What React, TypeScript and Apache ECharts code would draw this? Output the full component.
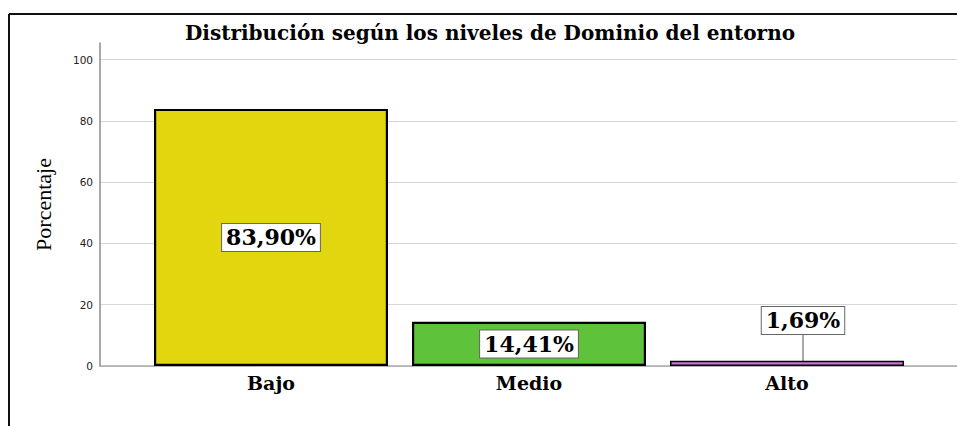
import React, { useEffect, useRef } from "react";
import * as echarts from "echarts";

const titleText = "Distribución según los niveles de Dominio del entorno";
const categories = ["Bajo", "Medio", "Alto"];
const percentages = [83.9, 14.41, 1.69];
const barColors = ["#E2D60F", "#5EC23A", "#CC72DA"];
const yAxisName = "Porcentaje";

export default function App() {
  const ref = useRef<HTMLDivElement>(null);
  useEffect(() => {
    if (!ref.current) return;
    const chart = echarts.init(ref.current, null, { renderer: "svg" });
    const yMax = 105.4;
    chart.setOption({
      animation: false,
      backgroundColor: "#ffffff",
      graphic: [
        { type: "line", shape: { x1: 9, y1: 14, x2: 957, y2: 14 }, style: { stroke: "#111", lineWidth: 2 } },
        { type: "line", shape: { x1: 9, y1: 14, x2: 9, y2: 426 }, style: { stroke: "#111", lineWidth: 2 } },
        {
          type: "text",
          x: 490,
          y: 33,
          style: {
            text: titleText,
            fontFamily: "DejaVu Serif",
            fontWeight: "bold",
            fontSize: 20,
            fill: "#000",
            textAlign: "center",
            textVerticalAlign: "middle",
          },
        },
      ],
      grid: [
        { left: 100, right: 0, top: 43, bottom: 60 },
        { left: 142, right: 41, top: 43, bottom: 60 },
      ],
      xAxis: [
        {
          gridIndex: 0,
          type: "category",
          data: [""],
          axisLine: { show: true, lineStyle: { color: "#a8a8a8", width: 1.5 } },
          axisTick: { show: false },
          axisLabel: { show: false },
          splitLine: { show: false },
        },
        {
          gridIndex: 1,
          type: "category",
          data: categories,
          axisLine: { show: false },
          axisTick: { show: false },
          axisLabel: {
            fontFamily: "DejaVu Serif",
            fontWeight: "bold",
            fontSize: 19,
            color: "#000",
            margin: 7,
          },
        },
      ],
      yAxis: [
        {
          gridIndex: 0,
          type: "value",
          min: 0,
          max: yMax,
          interval: 20,
          name: yAxisName,
          nameLocation: "middle",
          nameGap: 46,
          nameTextStyle: { fontFamily: "Liberation Serif", fontSize: 22, color: "#000" },
          axisLine: { show: true, lineStyle: { color: "#8c8c8c", width: 1.5 } },
          axisTick: { show: false },
          axisLabel: {
            showMaxLabel: false,
            fontFamily: "DejaVu Sans",
            fontSize: 10.5,
            color: "#222",
            margin: 7,
          },
          splitLine: { show: true, showMaxLine: false, lineStyle: { color: "#d6d6d6", width: 1 } },
        },
        { gridIndex: 1, type: "value", min: 0, max: yMax, show: false },
      ],
      series: [
        {
          type: "bar",
          xAxisIndex: 1,
          yAxisIndex: 1,
          barWidth: "90.7%",
          data: percentages.map((v, i) => ({
            value: v,
            itemStyle: { color: barColors[i], borderColor: "#000", borderWidth: i === 2 ? 1.5 : 2.2 },
            labelLine: i === 2 ? { show: true, lineStyle: { color: "#555", width: 1 } } : { show: false },
          })),
          label: {
            show: true,
            position: "inside",
            formatter: (p: any) => p.value.toFixed(2).replace(".", ",") + "%",
            fontFamily: "DejaVu Serif",
            fontWeight: "bold",
            fontSize: 22,
            color: "#000",
            backgroundColor: "#fff",
            borderColor: "#666",
            borderWidth: 1,
            padding: [3, 4, 2, 4],
          },
          labelLayout: (p: any) => (p.dataIndex === 2 ? { dx: 16, dy: -43 } : {}),
        },
      ],
    });
    return () => chart.dispose();
  }, []);
  return <div ref={ref} style={{ position: "fixed", left: 0, top: 0, width: 957, height: 426 }} />;
}
